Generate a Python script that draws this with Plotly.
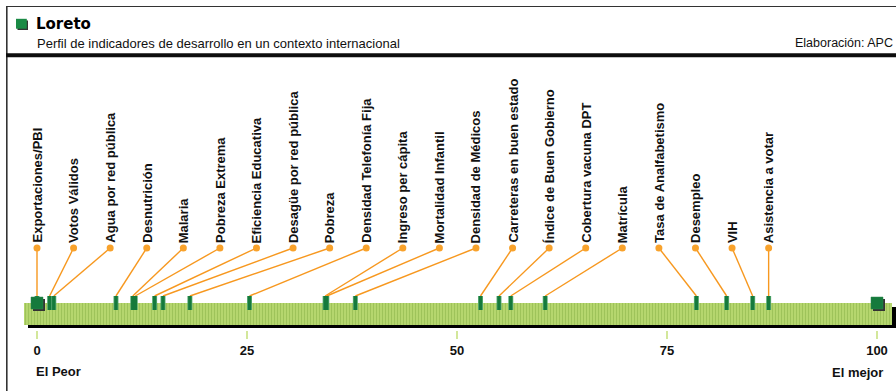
import plotly.graph_objects as go

# ---------------- data ----------------
indicadores = ["Exportaciones/PBI", "Votos Válidos", "Agua por red pública", "Desnutrición",
               "Malaria", "Pobreza Extrema", "Eficiencia Educativa", "Desagüe por red pública",
               "Pobreza", "Densidad Telefonía Fija", "Ingreso per cápita", "Mortalidad Infantil",
               "Densidad de Médicos", "Carreteras en buen estado", "Índice de Buen Gobierno",
               "Cobertura vacuna DPT", "Matrícula", "Tasa de Analfabetismo", "Desempleo", "VIH",
               "Asistencia a votar"]
valores = [0.0, 1.5, 2.0, 9.4, 11.4, 11.7, 14.0, 15.0, 18.2, 25.3, 34.3, 34.5, 37.9,
           52.8, 55.0, 56.4, 60.5, 78.5, 82.1, 85.2, 87.1]
extremos = [0, 100]
extremos_txt = ["El Peor", "El mejor"]
tick_vals = [0, 25, 50, 75, 100]
tick_text = ["0", "25", "50", "75", "100"]
titulo = "Loreto"
subtitulo = "Perfil de indicadores de desarrollo en un contexto internacional"
fuente = "Elaboración: APC"

# ---------------- layout helpers ----------------
W, H = 896, 391
X0PX, SCALE = 37.0, 8.4          # pixel of value 0, pixels per unit
def xv(px):                      # pixel -> data x
    return (px - X0PX) / SCALE
def xp(px):                      # pixel -> paper x
    return px / W

FONT = "Liberation Sans, Arial, sans-serif"
ORANGE = "#f7981f"
DARKGREEN = "#157a3c"

fig = go.Figure()

# bar shadow + striped bar
fig.add_shape(type="rect", xref="paper", yref="y", x0=xp(28), x1=xp(897), y0=307, y1=328,
              fillcolor="#000000", line_width=0, layer="below")
bar_l, bar_r = xv(24), xv(892)
fig.add_trace(go.Bar(orientation="h", y=[313.7], x=[bar_r - bar_l], base=[bar_l], width=21.8,
                     marker=dict(color="#b7d96f", line_width=0,
                                 pattern=dict(shape="|", fgcolor="#84ab41", bgcolor="#b9da72",
                                              size=3, solidity=0.45)),
                     hoverinfo="skip", showlegend=False))

# label positions: evenly spread between min and max
n = len(valores)
vmin, vmax = min(valores), max(valores)
lab_x = [vmin + i * (vmax - vmin) / (n - 1) for i in range(n)]
Y_DOT, Y_MTOP, Y_MBOT = 248, 296, 310

# connector lines
lx, ly = [], []
for v, l in zip(valores, lab_x):
    lx += [l, v, None]
    ly += [Y_DOT, Y_MTOP, None]
fig.add_trace(go.Scatter(x=lx, y=ly, mode="lines", line=dict(color=ORANGE, width=1.4),
                         hoverinfo="skip", showlegend=False))

# value markers (vertical bars)
mx, my = [], []
for v in valores:
    mx += [v, v, None]
    my += [Y_MTOP, Y_MBOT, None]
fig.add_trace(go.Scatter(x=mx, y=my, mode="lines", line=dict(color="#5fae78", width=5),
                         hoverinfo="skip", showlegend=False))
fig.add_trace(go.Scatter(x=mx, y=my, mode="lines", line=dict(color=DARKGREEN, width=3.4),
                         hoverinfo="skip", showlegend=False))

# orange dots
fig.add_trace(go.Scatter(x=lab_x, y=[Y_DOT] * n, mode="markers",
                         marker=dict(color="#f8a22c", size=7, line_width=0),
                         hoverinfo="skip", showlegend=False))

# extreme squares with shadow
fig.add_trace(go.Scatter(x=[e + 2 / SCALE for e in extremos], y=[305] * 2, mode="markers",
                         marker=dict(symbol="square", color="#333333", size=12, line_width=0),
                         hoverinfo="skip", showlegend=False))
fig.add_trace(go.Scatter(x=extremos, y=[303] * 2, mode="markers",
                         marker=dict(symbol="square", color=DARKGREEN, size=12,
                                     line=dict(color="#2e8a4f", width=0.5)),
                         hoverinfo="skip", showlegend=False))

# rotated labels
for l, t in zip(lab_x, indicadores):
    fig.add_annotation(x=l, y=244, xref="x", yref="y", text="<b>" + t + "</b>",
                       textangle=-90, showarrow=False, xanchor="center", yanchor="bottom",
                       font=dict(family=FONT, size=13, color="#111111"), borderpad=0)

# header frame
fig.add_shape(type="line", xref="paper", yref="y", x0=xp(6), x1=xp(897), y0=6.5, y1=6.5,
              line=dict(color="#333333", width=1.2))
fig.add_shape(type="line", xref="paper", yref="y", x0=xp(6.8), x1=xp(6.8), y0=6, y1=392,
              line=dict(color="#333333", width=1.6))
fig.add_shape(type="rect", xref="paper", yref="y", x0=xp(6), x1=xp(897), y0=53.3, y1=57.3,
              fillcolor="#0d0d0d", line_width=0)
# title icon
fig.add_shape(type="rect", xref="paper", yref="y", x0=xp(17.5), x1=xp(28), y0=20.5, y1=30,
              fillcolor="#333333", line_width=0)
fig.add_shape(type="rect", xref="paper", yref="y", x0=xp(16), x1=xp(26.8), y0=18.8, y1=28.7,
              fillcolor="#1b8a45", line_width=0)

fig.add_annotation(x=xp(34), y=24, xref="paper", yref="y", text="<b>" + titulo + "</b>",
                   showarrow=False, xanchor="left", yanchor="middle",
                   font=dict(family="DejaVu Sans, sans-serif", size=15, color="#000000"))
fig.add_annotation(x=xp(35), y=43, xref="paper", yref="y", text=subtitulo,
                   showarrow=False, xanchor="left", yanchor="middle",
                   font=dict(family=FONT, size=13, color="#111111"))
fig.add_annotation(x=xp(895), y=43, xref="paper", yref="y", text=fuente,
                   showarrow=False, xanchor="right", yanchor="middle",
                   font=dict(family=FONT, size=12.5, color="#111111"))

# El Peor / El mejor
fig.add_annotation(x=xp(34), y=371.5, xref="paper", yref="y", text="<b>" + extremos_txt[0] + "</b>",
                   showarrow=False, xanchor="left", yanchor="middle",
                   font=dict(family=FONT, size=13, color="#111111"))
fig.add_annotation(x=xp(885), y=372.5, xref="paper", yref="y", text="<b>" + extremos_txt[1] + "</b>",
                   showarrow=False, xanchor="right", yanchor="middle",
                   font=dict(family=FONT, size=13, color="#111111"))

fig.update_layout(
    width=W, height=H, margin=dict(l=0, r=0, t=0, b=0),
    paper_bgcolor="white", plot_bgcolor="white", showlegend=False, bargap=0,
    xaxis=dict(range=[xv(0), xv(W)], anchor="free", position=1 - 330 / H,
               tickmode="array", tickvals=tick_vals, ticktext=["<b>" + t + "</b>" for t in tick_text],
               ticks="outside", ticklen=8, tickwidth=1.5, tickcolor="#d3e79b",
               tickfont=dict(family=FONT, size=13, color="#111111"),
               showgrid=False, zeroline=False, showline=False, fixedrange=True),
    yaxis=dict(range=[H, 0], visible=False, fixedrange=True),
)

fig.write_html("out.html", config={"displayModeBar": False},
               post_script="document.body.style.margin='0';document.body.style.overflow='hidden';")
